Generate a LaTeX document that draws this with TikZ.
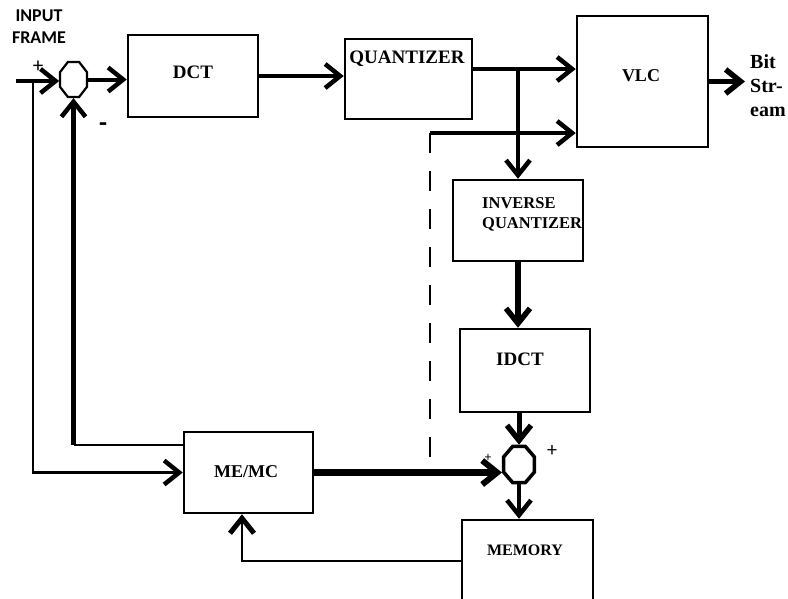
\documentclass[tikz,border=0pt]{standalone}
\usepackage{fontspec}
\setmainfont{Liberation Serif}
\newfontfamily\carlitofont{Carlito}
\usetikzlibrary{arrows.meta,shapes.geometric}
\begin{document}
\begin{tikzpicture}[x=1pt,y=-1pt,
  box/.style={draw, line width=2.5pt, inner sep=0pt},
  lbl/.style={font=\bfseries\fontsize{#1}{#1}\selectfont, inner sep=0pt},
  junc/.style={draw, line width=#1, regular polygon, regular polygon sides=8, inner sep=0pt},
  arr/.style={-{Straight Barb[length=15pt,width=24pt,line width=#1]}},
  arr/.default=4.5pt,
  thinline/.style={line width=2.5pt},
  dashline/.style={line width=2.5pt, dash pattern=on 20pt off 18pt}
]
\useasboundingbox (0,0) rectangle (788,598);

% boxes
\node[box, minimum width=130pt, minimum height=82pt] (dct) at (193,76) {};
\node[box, minimum width=127pt, minimum height=80pt] (q) at (408.5,79) {};
\node[box, minimum width=131pt, minimum height=131pt] (vlc) at (642.5,81.5) {};
\node[box, minimum width=130pt, minimum height=81pt] (iq) at (518,220.5) {};
\node[box, minimum width=130pt, minimum height=83pt] (idct) at (525,370.5) {};
\node[box, minimum width=129pt, minimum height=81pt] (me) at (248.5,472.5) {};
\node[box, minimum width=131pt, minimum height=82pt] (mem) at (527.5,561) {};

% junctions
\node[junc=2.2pt, minimum size=38pt, xscale=0.77, transform shape] (s1) at (73.5,79.5) {};
\node[junc=3.5pt, minimum size=39pt, xscale=0.86, transform shape] (add) at (519,464.5) {};

% labels
\node[lbl=19] (tdct) at (193,72) {DCT};
\node[lbl=19] (tq) at (407,59) {QUANTIZER};
\node[lbl=18] (tvlc) at (641,76) {VLC};
\node[lbl=16.5, align=left, anchor=west, font=\bfseries\fontsize{16.5}{20}\selectfont] (tiq) at (482,214) {INVERSE\\QUANTIZER};
\node[lbl=19] (tidct) at (520,359) {IDCT};
\node[lbl=18] (tme) at (246,472) {ME/MC};
\node[lbl=16] (tmem) at (525,550) {MEMORY};
\node[align=left, anchor=west, inner sep=0pt, font=\bfseries\fontsize{20}{24}\selectfont] (tbs) at (750,86) {Bit\\Str-\\eam};
\node[align=center, inner sep=0pt, font=\carlitofont\bfseries\fontsize{18}{22}\selectfont] (tin) at (39,27) {INPUT\\FRAME};
\node[inner sep=0pt, font=\carlitofont\fontsize{21}{21}\selectfont] (p1) at (38,67) {+};
\node[inner sep=0pt, font=\carlitofont\bfseries\fontsize{26}{26}\selectfont] (m1) at (103,127) {-};
\node[inner sep=0pt, font=\carlitofont\fontsize{20}{20}\selectfont] (p2) at (552,451) {+};
\node[inner sep=0pt, font=\carlitofont\fontsize{13}{13}\selectfont] (p3) at (488,458) {+};

% coordinates
\coordinate (in) at (16,81);
\coordinate (br) at (33,81);
\coordinate (fb) at ([yshift=27.5pt]me.west);
\coordinate (fbc) at (fb -| s1.south);
\coordinate (qo) at ([yshift=10pt]q.east);
\coordinate (bq) at (qo -| iq.north);
\coordinate (dt) at (430,133);
\coordinate (db) at (430,468);
\coordinate (bs) at (745,79);
\coordinate (mi) at ([xshift=-6.5pt]me.south);

% connectors
\draw[line width=4.5pt, arr] (in) -- (in -| s1.west);
\draw[thinline, arr] (br) |- (me.west);
\draw[thinline] (fb) -- (fbc);
\draw[line width=4.5pt, arr] (fbc) -- (s1.south);
\draw[line width=4pt, arr] (s1.east) -- (s1.east -| dct.west);
\draw[line width=4pt, arr] (dct.east) -- (dct.east -| q.west);
\draw[line width=3.5pt, arr] (qo) -- (qo -| vlc.west);
\draw[line width=4pt, arr] (bq) -- (iq.north);
\draw[dashline] (dt) -- (db);
\draw[line width=3.5pt, arr] (dt) -- (dt -| vlc.west);
\draw[line width=5pt, arr=5.5pt] (vlc.east) -- (vlc.east -| bs);
\draw[line width=6pt, arr=5.5pt] (iq.south) -- (iq.south |- idct.north);
\draw[line width=5pt, arr=5.5pt] (add.north |- idct.south) -- (add.north);
\draw[line width=6.5pt, arr=6pt] (me.east) -- (me.east -| add.west);
\draw[line width=4pt, arr] (add.south) -- (add.south |- mem.north);
\draw[thinline, arr=5pt] (mem.west) -| (mi);
\end{tikzpicture}
\end{document}
